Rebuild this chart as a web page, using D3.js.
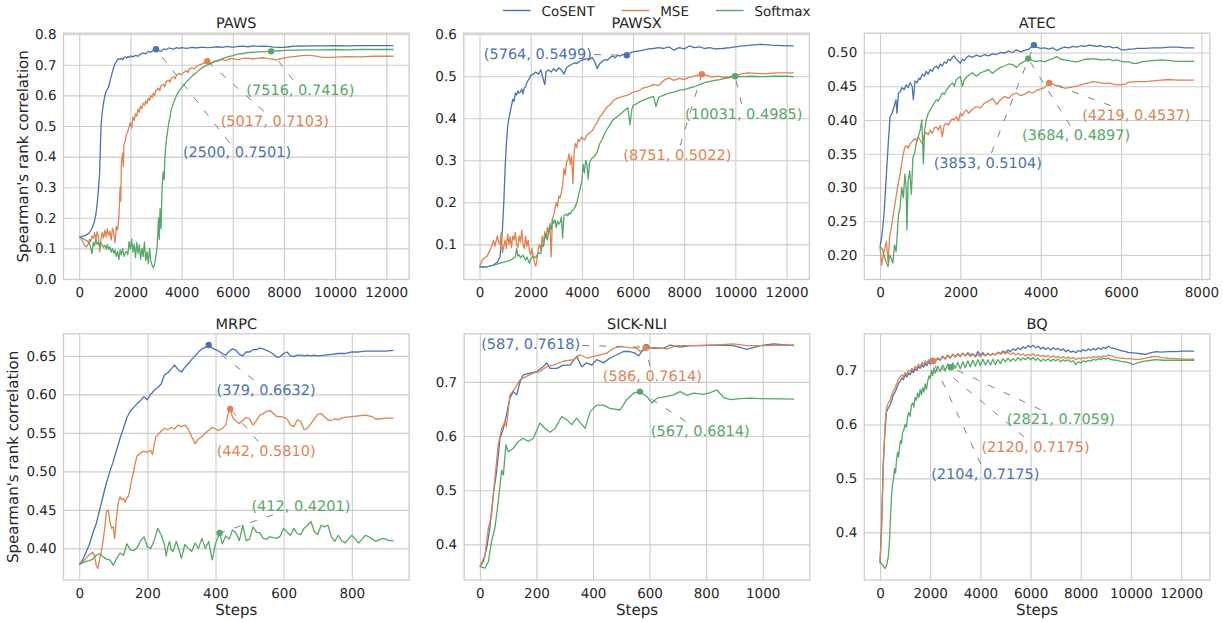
<!DOCTYPE html>
<html>
<head>
<meta charset="utf-8">
<script src="https://cdn.jsdelivr.net/npm/d3@7"></script>
<style>
body{margin:0;background:#fff;}
text{font-family:"DejaVu Sans",sans-serif;fill:#262626;text-rendering:geometricPrecision;}
</style>
</head>
<body>
<svg id="chart" width="1223" height="622"></svg>
<script>
const seriesNames = ["CoSENT", "MSE", "Softmax"];
const seriesColors = ["#4c72b0", "#dd8452", "#55a868"];

// tick values
const steps12k = [0, 2000, 4000, 6000, 8000, 10000, 12000];
const steps8k = [0, 2000, 4000, 6000, 8000];
const mrpcStepTicks = [0, 200, 400, 600, 800];
const sickStepTicks = [0, 200, 400, 600, 800, 1000];
const pawsYTicks = [0, .1, .2, .3, .4, .5, .6, .7, .8];
const pawsxYTicks = [.1, .2, .3, .4, .5, .6];
const atecYTicks = [.2, .25, .3, .35, .4, .45, .5];
const mrpcYTicks = [.4, .45, .5, .55, .6, .65];
const sickYTicks = [.4, .5, .6, .7];
const bqYTicks = [.4, .5, .6, .7];

// PAWS  [step, spearman]
const pawsCosent = [[0,.138],[100,.139],[200,.141],[300,.145],[400,.152],[500,.165],[600,.19],[650,.21],[700,.245],[750,.29],[800,.35],[830,.44],[860,.51],[900,.545],[950,.575],[1000,.598],[1050,.612],[1100,.62],[1150,.628],[1200,.645],[1250,.662],[1300,.678],[1350,.692],[1400,.703],[1450,.71],[1500,.717],[1550,.72],[1600,.718],[1650,.722],[1700,.716],[1750,.724],[1800,.726],[1850,.722],[1900,.727],[1950,.724],[2000,.729],[2100,.726],[2200,.731],[2300,.728],[2400,.735],[2500,.739],[2600,.736],[2700,.744],[2800,.741],[2900,.748],[3000,.751],[3100,.746],[3200,.744],[3300,.752],[3400,.75],[3500,.755],[3600,.753],[3700,.751],[3800,.756],[3900,.754],[4000,.756],[4200,.754],[4400,.757],[4600,.755],[4800,.758],[5000,.756],[5200,.757],[5400,.759],[5600,.757],[5800,.76],[6000,.757],[6200,.76],[6400,.761],[6600,.759],[6800,.762],[7000,.76],[7200,.761],[7400,.76],[7600,.758],[7800,.757],[8000,.757],[8200,.759],[8400,.761],[8600,.762],[8800,.761],[9000,.762],[9500,.762],[10000,.763],[10500,.762],[11000,.763],[11500,.763],[12000,.763],[12280,.763]];
const pawsMse = [[0,.14],[100,.128],[200,.112],[280,.104],[350,.113],[400,.13],[450,.122],[500,.14],[550,.133],[600,.152],[650,.127],[700,.155],[750,.138],[800,.089],[850,.13],[900,.152],[950,.133],[1000,.16],[1050,.138],[1100,.165],[1150,.143],[1200,.156],[1250,.128],[1300,.166],[1350,.148],[1400,.118],[1450,.172],[1500,.16],[1550,.2],[1600,.3],[1625,.255],[1650,.38],[1700,.412],[1725,.368],[1750,.44],[1800,.452],[1850,.474],[1900,.482],[1950,.498],[2000,.511],[2050,.493],[2100,.53],[2150,.518],[2200,.54],[2250,.532],[2300,.556],[2350,.545],[2400,.566],[2450,.556],[2500,.575],[2550,.568],[2600,.582],[2650,.574],[2700,.591],[2750,.584],[2800,.6],[2850,.593],[2900,.607],[2950,.6],[3000,.616],[3100,.624],[3150,.615],[3200,.632],[3300,.636],[3350,.628],[3400,.646],[3500,.65],[3550,.643],[3600,.657],[3700,.661],[3750,.654],[3800,.667],[3900,.671],[4000,.667],[4100,.676],[4200,.681],[4250,.675],[4300,.686],[4400,.69],[4500,.687],[4600,.696],[4700,.7],[4800,.703],[4900,.707],[5000,.712],[5100,.708],[5200,.707],[5300,.713],[5400,.711],[5500,.716],[5600,.718],[5700,.714],[5800,.716],[5900,.721],[6000,.72],[6200,.717],[6400,.721],[6600,.722],[6800,.719],[7000,.722],[7200,.723],[7400,.72],[7600,.718],[7700,.715],[7800,.719],[8000,.722],[8200,.725],[8400,.727],[8600,.729],[8800,.731],[9000,.731],[9200,.729],[9400,.726],[9600,.724],[9800,.724],[10000,.725],[10500,.727],[11000,.726],[11500,.728],[12000,.728],[12280,.728]];
const pawsSoftmax = [[0,.14],[100,.134],[200,.129],[300,.125],[400,.118],[450,.1],[500,.083],[550,.12],[600,.108],[650,.13],[700,.113],[750,.121],[800,.107],[850,.118],[900,.111],[950,.104],[1000,.11],[1050,.098],[1100,.112],[1150,.097],[1200,.105],[1250,.088],[1300,.1],[1350,.084],[1400,.095],[1450,.074],[1500,.09],[1550,.064],[1600,.095],[1650,.079],[1700,.1],[1750,.074],[1800,.085],[1850,.09],[1900,.079],[1950,.122],[2000,.098],[2050,.13],[2100,.088],[2150,.115],[2200,.07],[2250,.12],[2300,.084],[2350,.112],[2400,.065],[2450,.1],[2500,.074],[2550,.121],[2600,.06],[2650,.09],[2700,.05],[2750,.1],[2800,.058],[2850,.045],[2900,.037],[2950,.05],[3000,.075],[3050,.11],[3100,.2],[3130,.13],[3160,.23],[3200,.165],[3240,.3],[3280,.35],[3320,.325],[3350,.4],[3400,.45],[3450,.48],[3500,.51],[3550,.53],[3600,.555],[3700,.578],[3800,.6],[3900,.614],[4000,.625],[4100,.635],[4200,.645],[4300,.654],[4400,.662],[4500,.669],[4600,.676],[4700,.684],[4800,.69],[4900,.695],[5000,.699],[5100,.703],[5200,.707],[5300,.71],[5400,.714],[5600,.72],[5800,.726],[6000,.73],[6200,.735],[6400,.737],[6600,.74],[6800,.741],[7000,.742],[7200,.743],[7500,.744],[7800,.746],[8100,.747],[8500,.748],[9000,.749],[9500,.749],[10000,.75],[10500,.749],[11000,.75],[11500,.75],[12000,.75],[12280,.75]];
const pawsNotes = [[3000,.751,"(2500, 0.7501)"],[5000,.712,"(5017, 0.7103)"],[7500,.744,"(7516, 0.7416)"]];

// PAWSX
const pawsxCosent = [[0,.046],[200,.046],[400,.048],[550,.051],[700,.058],[800,.07],[850,.1],[900,.14],[950,.2],[1000,.28],[1050,.34],[1100,.38],[1150,.40],[1200,.415],[1250,.43],[1300,.445],[1350,.44],[1400,.46],[1450,.455],[1500,.465],[1550,.46],[1600,.462],[1650,.47],[1700,.458],[1750,.472],[1800,.475],[1850,.485],[1900,.49],[1950,.495],[2000,.502],[2100,.505],[2200,.51],[2300,.505],[2400,.515],[2500,.49],[2550,.48],[2600,.51],[2700,.515],[2800,.51],[2900,.518],[3000,.512],[3100,.52],[3200,.515],[3300,.505],[3400,.52],[3500,.525],[3600,.528],[3700,.532],[3800,.53],[3900,.535],[4000,.538],[4100,.54],[4200,.542],[4300,.54],[4400,.545],[4500,.535],[4600,.518],[4700,.53],[4800,.535],[4900,.54],[5000,.538],[5100,.545],[5200,.548],[5300,.544],[5400,.55],[5500,.548],[5600,.552],[5760,.55],[5900,.556],[6000,.558],[6200,.56],[6400,.562],[6600,.565],[6800,.566],[7000,.568],[7200,.566],[7400,.57],[7600,.562],[7800,.568],[8000,.565],[8200,.572],[8400,.568],[8600,.57],[8800,.566],[9000,.568],[9200,.565],[9500,.566],[9800,.568],[10000,.57],[10300,.572],[10600,.574],[11000,.576],[11400,.574],[11800,.573],[12280,.572]];
const pawsxMse = [[0,.046],[100,.062],[200,.068],[300,.072],[400,.085],[500,.1],[550,.11],[600,.095],[700,.12],[750,.105],[800,.1],[850,.128],[900,.08],[950,.095],[1000,.11],[1050,.09],[1100,.125],[1150,.1],[1200,.118],[1250,.092],[1300,.12],[1350,.11],[1400,.128],[1450,.1],[1500,.092],[1550,.12],[1600,.105],[1650,.134],[1700,.1],[1750,.09],[1800,.12],[1850,.095],[1900,.11],[1950,.085],[2000,.075],[2050,.09],[2100,.07],[2150,.055],[2200,.048],[2250,.065],[2300,.09],[2350,.1],[2400,.085],[2450,.12],[2500,.1],[2550,.13],[2600,.115],[2650,.14],[2700,.125],[2750,.15],[2800,.07],[2850,.16],[2900,.17],[2950,.185],[3000,.2],[3050,.19],[3100,.215],[3150,.21],[3200,.225],[3250,.24],[3300,.28],[3350,.265],[3400,.295],[3450,.3],[3500,.315],[3550,.29],[3600,.31],[3650,.245],[3700,.32],[3750,.34],[3800,.33],[3850,.35],[3900,.345],[4000,.355],[4100,.348],[4200,.36],[4300,.365],[4400,.37],[4500,.38],[4600,.39],[4700,.403],[4800,.41],[4900,.42],[5000,.428],[5100,.432],[5200,.44],[5300,.445],[5400,.448],[5500,.45],[5600,.452],[5800,.455],[6000,.462],[6200,.465],[6400,.472],[6600,.475],[6800,.48],[7000,.478],[7200,.49],[7400,.496],[7600,.49],[7800,.495],[8000,.492],[8200,.498],[8400,.5],[8690,.505],[8900,.502],[9100,.498],[9300,.5],[9600,.497],[9900,.5],[10200,.505],[10500,.508],[10800,.507],[11200,.506],[11600,.508],[12000,.508],[12280,.508]];
const pawsxSoftmax = [[0,.046],[200,.046],[400,.048],[600,.051],[800,.055],[1000,.058],[1200,.062],[1300,.066],[1400,.07],[1450,.09],[1500,.072],[1550,.075],[1600,.068],[1700,.074],[1800,.062],[1850,.07],[1950,.055],[2000,.065],[2100,.072],[2200,.068],[2300,.08],[2400,.078],[2450,.1],[2500,.095],[2550,.115],[2600,.125],[2650,.11],[2700,.13],[2750,.145],[2800,.135],[2850,.16],[2900,.15],[2950,.158],[3000,.14],[3050,.155],[3100,.148],[3150,.152],[3200,.165],[3250,.115],[3300,.168],[3350,.17],[3400,.172],[3450,.168],[3500,.175],[3550,.172],[3600,.178],[3700,.185],[3800,.198],[3900,.225],[4000,.25],[4050,.29],[4100,.27],[4150,.3],[4200,.29],[4250,.255],[4300,.295],[4400,.305],[4500,.31],[4600,.32],[4700,.34],[4800,.35],[4900,.365],[5000,.375],[5100,.385],[5200,.395],[5300,.4],[5400,.405],[5500,.41],[5600,.415],[5700,.42],[5800,.425],[5880,.385],[5950,.42],[6000,.43],[6200,.437],[6400,.443],[6600,.448],[6800,.452],[6900,.428],[7000,.45],[7200,.455],[7400,.46],[7600,.462],[7800,.467],[8000,.468],[8200,.472],[8400,.475],[8600,.48],[8800,.485],[9000,.488],[9200,.49],[9400,.492],[9600,.495],[9800,.497],[9990,.5],[10300,.499],[10600,.5],[11000,.499],[11500,.5],[12000,.5],[12280,.499]];
const pawsxNotes = [[5760,.55,"(5764, 0.5499)"],[8690,.505,"(8751, 0.5022)"],[9990,.5,"(10031, 0.4985)"]];

// ATEC
const atecCosent = [[0,.212],[50,.23],[100,.26],[150,.31],[200,.36],[250,.405],[300,.41],[350,.42],[400,.43],[420,.41],[460,.44],[500,.442],[550,.448],[600,.445],[650,.452],[700,.448],[750,.455],[800,.45],[830,.43],[870,.458],[920,.455],[970,.462],[1000,.46],[1050,.468],[1100,.465],[1150,.472],[1200,.468],[1250,.475],[1300,.472],[1350,.478],[1400,.48],[1450,.476],[1500,.483],[1550,.48],[1600,.486],[1650,.484],[1700,.49],[1750,.488],[1800,.493],[1850,.495],[1900,.49],[1950,.487],[2000,.484],[2050,.49],[2100,.488],[2150,.492],[2200,.495],[2300,.493],[2400,.496],[2500,.494],[2600,.497],[2700,.495],[2800,.498],[2900,.497],[3000,.5],[3100,.499],[3200,.502],[3300,.5],[3400,.504],[3500,.501],[3600,.503],[3700,.505],[3831,.511],[3900,.508],[4000,.506],[4100,.507],[4200,.505],[4300,.507],[4400,.503],[4500,.506],[4600,.508],[4700,.507],[4800,.509],[4900,.508],[5000,.51],[5100,.509],[5200,.511],[5300,.51],[5400,.509],[5500,.51],[5600,.508],[5700,.509],[5800,.507],[5900,.508],[6000,.504],[6100,.504],[6200,.505],[6300,.505],[6400,.506],[6600,.506],[6800,.507],[7000,.507],[7200,.508],[7400,.508],[7600,.507],[7820,.507]];
const atecMse = [[0,.212],[40,.185],[80,.2],[120,.21],[160,.22],[200,.19],[240,.228],[280,.24],[330,.26],[370,.275],[410,.29],[450,.305],[500,.32],[540,.335],[580,.35],[620,.36],[660,.362],[700,.358],[750,.365],[800,.368],[850,.372],[900,.37],[950,.375],[1000,.37],[1050,.365],[1100,.378],[1150,.382],[1200,.378],[1250,.385],[1300,.38],[1350,.388],[1400,.39],[1450,.385],[1500,.392],[1550,.375],[1600,.393],[1650,.395],[1700,.392],[1750,.398],[1800,.402],[1850,.4],[1900,.405],[1950,.398],[2000,.41],[2050,.406],[2100,.412],[2150,.415],[2200,.41],[2300,.416],[2400,.42],[2500,.418],[2600,.425],[2700,.428],[2800,.432],[2900,.423],[3000,.43],[3100,.435],[3200,.432],[3300,.438],[3400,.44],[3500,.436],[3600,.438],[3700,.442],[3800,.44],[3900,.444],[4000,.446],[4100,.448],[4213,.455],[4300,.453],[4400,.451],[4500,.45],[4600,.447],[4700,.448],[4800,.449],[4900,.45],[5000,.452],[5100,.454],[5200,.455],[5300,.457],[5400,.456],[5500,.455],[5600,.454],[5700,.455],[5800,.453],[5900,.452],[6000,.452],[6100,.453],[6200,.456],[6400,.457],[6600,.457],[6800,.458],[7000,.459],[7200,.46],[7400,.459],[7600,.459],[7820,.459]];
const atecSoftmax = [[0,.212],[50,.21],[100,.2],[150,.19],[200,.183],[240,.2],[280,.195],[320,.188],[360,.215],[400,.205],[440,.24],[460,.26],[500,.27],[540,.3],[580,.285],[620,.32],[650,.3],[670,.237],[700,.31],[740,.325],[780,.29],[820,.345],[860,.35],[900,.365],[950,.375],[1000,.385],[1040,.4],[1080,.335],[1110,.385],[1150,.4],[1200,.41],[1250,.415],[1300,.42],[1350,.425],[1400,.43],[1450,.428],[1500,.434],[1550,.44],[1600,.438],[1650,.444],[1700,.448],[1750,.452],[1800,.455],[1850,.45],[1900,.46],[1950,.462],[2000,.465],[2050,.45],[2100,.46],[2150,.463],[2200,.466],[2300,.47],[2400,.465],[2500,.47],[2600,.472],[2700,.475],[2800,.469],[2900,.474],[3000,.478],[3100,.48],[3200,.483],[3300,.482],[3400,.478],[3500,.484],[3600,.487],[3689,.491],[3800,.488],[3900,.487],[4000,.488],[4100,.486],[4200,.489],[4300,.491],[4400,.494],[4500,.49],[4600,.489],[4700,.488],[4800,.487],[4900,.486],[5000,.488],[5100,.49],[5200,.49],[5300,.491],[5400,.49],[5500,.489],[5600,.489],[5700,.49],[5800,.488],[5900,.489],[6000,.487],[6100,.486],[6200,.486],[6300,.484],[6400,.484],[6500,.486],[6600,.487],[6800,.488],[7000,.489],[7200,.488],[7400,.487],[7600,.487],[7820,.487]];
const atecNotes = [[3831,.511,"(3853, 0.5104)"],[4213,.455,"(4219, 0.4537)"],[3689,.491,"(3684, 0.4897)"]];

// MRPC
const mrpcCosent = [[0,.379],[10,.385],[20,.395],[30,.405],[40,.42],[50,.432],[60,.45],[70,.468],[80,.485],[90,.5],[100,.513],[110,.528],[120,.543],[130,.556],[140,.57],[150,.578],[160,.583],[170,.588],[180,.592],[190,.597],[200,.593],[210,.6],[220,.605],[230,.609],[240,.613],[250,.625],[260,.628],[270,.633],[280,.638],[290,.632],[300,.629],[310,.635],[320,.64],[330,.645],[340,.65],[350,.655],[360,.659],[370,.661],[380,.664],[390,.66],[400,.658],[410,.656],[420,.653],[430,.651],[440,.656],[450,.659],[460,.657],[470,.652],[480,.65],[490,.655],[500,.655],[510,.658],[520,.658],[530,.66],[540,.659],[550,.657],[560,.655],[570,.652],[580,.648],[590,.649],[600,.653],[610,.655],[620,.65],[630,.649],[640,.651],[650,.651],[660,.65],[670,.651],[680,.65],[690,.651],[700,.65],[720,.651],[740,.652],[760,.653],[780,.653],[800,.655],[820,.655],[840,.656],[860,.656],[880,.656],[900,.656],[922,.657]];
const mrpcMse = [[0,.379],[10,.383],[20,.387],[30,.392],[40,.395],[45,.39],[50,.378],[55,.374],[60,.386],[65,.396],[70,.41],[75,.426],[80,.448],[85,.45],[90,.435],[95,.426],[100,.428],[104,.413],[110,.443],[115,.46],[120,.467],[125,.463],[130,.465],[135,.46],[140,.466],[145,.468],[150,.48],[155,.492],[160,.5],[165,.512],[170,.52],[180,.524],[190,.526],[200,.525],[210,.527],[215,.522],[220,.535],[225,.545],[230,.547],[240,.552],[250,.556],[260,.554],[270,.557],[280,.555],[290,.56],[300,.558],[310,.56],[320,.555],[330,.545],[340,.536],[350,.542],[360,.545],[370,.55],[380,.553],[390,.557],[400,.555],[410,.553],[420,.556],[430,.56],[437,.575],[443,.581],[450,.57],[460,.565],[470,.562],[480,.566],[490,.57],[500,.568],[510,.56],[520,.566],[530,.573],[540,.575],[550,.578],[560,.579],[570,.575],[580,.571],[590,.571],[600,.57],[610,.568],[620,.56],[630,.558],[640,.567],[650,.565],[660,.554],[670,.556],[680,.562],[690,.568],[700,.574],[710,.575],[720,.571],[730,.567],[740,.566],[750,.568],[760,.567],[770,.569],[780,.57],[800,.571],[820,.572],[840,.573],[860,.571],[870,.568],[880,.568],[900,.569],[922,.569]];
const mrpcSoftmax = [[0,.379],[10,.381],[20,.383],[30,.384],[40,.386],[50,.391],[60,.393],[70,.389],[80,.386],[90,.385],[100,.378],[110,.387],[120,.394],[130,.391],[140,.406],[150,.398],[160,.397],[170,.401],[180,.41],[190,.415],[200,.402],[210,.4],[220,.41],[230,.426],[240,.418],[250,.405],[255,.39],[260,.402],[265,.409],[270,.398],[275,.396],[285,.409],[295,.395],[300,.387],[310,.405],[320,.4],[330,.396],[340,.407],[350,.4],[360,.413],[370,.4],[380,.409],[390,.385],[395,.395],[400,.406],[412,.42],[420,.406],[430,.416],[440,.412],[450,.424],[460,.42],[470,.41],[480,.43],[490,.41],[500,.412],[510,.428],[520,.421],[530,.42],[540,.413],[550,.412],[560,.415],[570,.414],[580,.413],[590,.416],[600,.426],[610,.421],[620,.417],[630,.426],[640,.419],[650,.418],[660,.426],[670,.43],[680,.435],[690,.422],[700,.418],[710,.43],[720,.428],[730,.43],[740,.415],[750,.409],[760,.417],[770,.41],[780,.407],[790,.412],[800,.417],[810,.412],[820,.407],[830,.412],[840,.417],[850,.415],[860,.412],[870,.409],[880,.411],[890,.413],[900,.412],[910,.41],[922,.41]];
const mrpcNotes = [[380,.664,"(379, 0.6632)"],[443,.581,"(442, 0.5810)"],[412,.42,"(412, 0.4201)"]];

// SICK-NLI
const sickCosent = [[0,.359],[12,.368],[24,.393],[35,.43],[47,.491],[59,.534],[71,.596],[83,.614],[94,.639],[106,.67],[118,.682],[130,.676],[142,.7],[153,.713],[177,.716],[201,.719],[224,.728],[236,.735],[248,.725],[272,.725],[295,.731],[319,.731],[342,.747],[360,.728],[378,.735],[396,.731],[413,.741],[437,.735],[460,.744],[484,.75],[508,.756],[531,.756],[549,.753],[561,.748],[573,.756],[588,.764],[614,.762],[649,.762],[673,.768],[708,.764],[744,.767],[779,.767],[850,.768],[897,.767],[944,.76],[992,.767],[1039,.77],[1111,.767]];
const sickMse = [[0,.359],[18,.38],[30,.43],[41,.454],[53,.522],[65,.584],[77,.614],[89,.627],[94,.617],[106,.676],[124,.688],[142,.704],[165,.71],[189,.716],[212,.719],[236,.728],[260,.731],[295,.738],[331,.741],[354,.75],[378,.744],[401,.747],[425,.75],[449,.753],[472,.762],[496,.765],[531,.763],[555,.762],[567,.756],[586,.763],[614,.763],[661,.761],[696,.767],[744,.767],[838,.768],[897,.77],[944,.767],[992,.767],[1111,.768]];
const sickSoftmax = [[0,.359],[18,.356],[30,.368],[41,.405],[53,.43],[65,.479],[77,.537],[83,.528],[92,.584],[100,.571],[118,.577],[136,.59],[153,.596],[171,.59],[189,.596],[212,.624],[230,.614],[248,.607],[266,.614],[289,.636],[307,.63],[325,.621],[342,.633],[372,.614],[390,.645],[413,.657],[437,.657],[460,.651],[496,.648],[519,.667],[543,.679],[566,.682],[590,.673],[608,.661],[626,.67],[661,.673],[685,.676],[708,.682],[732,.675],[756,.679],[791,.677],[815,.68],[838,.685],[862,.671],[886,.667],[921,.669],[956,.67],[992,.669],[1111,.668]];
const sickNotes = [[588,.764,"(587, 0.7618)"],[586,.763,"(586, 0.7614)"],[566,.682,"(567, 0.6814)"]];

// BQ
const bqCosent = [[0,.343],[60,.41],[130,.53],[200,.59],[260,.624],[330,.63],[400,.636],[470,.645],[530,.655],[600,.66],[660,.667],[730,.675],[800,.68],[870,.686],[930,.683],[1000,.692],[1070,.688],[1130,.695],[1200,.692],[1270,.7],[1330,.696],[1400,.703],[1470,.7],[1530,.707],[1600,.704],[1670,.71],[1730,.706],[1800,.713],[1870,.709],[1930,.716],[2000,.712],[2100,.72],[2200,.716],[2300,.722],[2400,.719],[2500,.726],[2600,.721],[2700,.728],[2800,.723],[2900,.73],[3000,.725],[3100,.731],[3200,.726],[3300,.732],[3400,.727],[3500,.733],[3600,.728],[3700,.731],[3800,.726],[3900,.735],[4000,.728],[4100,.733],[4200,.727],[4300,.732],[4400,.728],[4500,.731],[4600,.729],[4700,.734],[4800,.731],[4900,.736],[5000,.733],[5100,.738],[5200,.735],[5300,.74],[5400,.737],[5500,.742],[5600,.739],[5700,.744],[5800,.741],[5900,.746],[6000,.743],[6100,.747],[6200,.742],[6300,.745],[6400,.74],[6500,.743],[6600,.739],[6700,.742],[6800,.738],[6900,.742],[7000,.739],[7100,.741],[7200,.737],[7300,.74],[7400,.735],[7500,.738],[7600,.734],[7700,.736],[7800,.733],[7900,.737],[8000,.735],[8100,.739],[8200,.736],[8300,.74],[8400,.737],[8500,.741],[8600,.738],[8700,.742],[8800,.739],[8900,.743],[9000,.741],[9100,.745],[9200,.742],[9300,.741],[9400,.74],[9500,.738],[9600,.737],[9700,.736],[9800,.735],[9900,.733],[10000,.733],[10200,.732],[10400,.731],[10600,.73],[10800,.733],[11000,.735],[11200,.734],[11500,.735],[11800,.735],[12100,.736],[12520,.736]];
const bqMse = [[0,.343],[60,.40],[130,.52],[200,.6],[260,.63],[330,.64],[400,.645],[470,.655],[530,.662],[600,.668],[660,.675],[730,.683],[800,.688],[870,.692],[930,.688],[1000,.696],[1070,.692],[1130,.7],[1200,.697],[1270,.704],[1330,.7],[1400,.708],[1470,.704],[1530,.712],[1600,.707],[1670,.715],[1730,.71],[1800,.718],[1870,.713],[1930,.72],[2000,.715],[2100,.722],[2200,.717],[2300,.724],[2400,.72],[2500,.727],[2600,.722],[2700,.729],[2800,.724],[2900,.73],[3000,.725],[3100,.731],[3200,.726],[3300,.732],[3400,.727],[3500,.731],[3600,.726],[3700,.73],[3800,.725],[3900,.729],[4000,.726],[4100,.73],[4200,.727],[4300,.731],[4400,.728],[4500,.732],[4600,.729],[4700,.733],[4800,.73],[4900,.734],[5000,.731],[5100,.734],[5200,.73],[5300,.733],[5400,.729],[5500,.732],[5600,.728],[5700,.731],[5800,.727],[5900,.73],[6000,.728],[6100,.731],[6200,.727],[6300,.729],[6400,.726],[6500,.728],[6600,.725],[6700,.728],[6800,.724],[6900,.727],[7000,.724],[7100,.726],[7200,.723],[7300,.726],[7400,.722],[7500,.725],[7600,.722],[7700,.724],[7800,.72],[7900,.723],[8000,.721],[8100,.724],[8200,.722],[8300,.725],[8400,.723],[8500,.726],[8600,.724],[8700,.726],[8800,.724],[8900,.727],[9000,.726],[9100,.729],[9200,.727],[9300,.726],[9400,.724],[9600,.723],[9800,.722],[10000,.722],[10200,.72],[10400,.721],[10600,.723],[10800,.725],[11000,.726],[11200,.724],[11500,.723],[11800,.722],[12100,.721],[12520,.721]];
const bqSoftmax = [[0,.343],[60,.342],[130,.338],[200,.333],[260,.338],[330,.355],[380,.385],[420,.43],[460,.47],[500,.49],[540,.5],[580,.518],[620,.51],[660,.535],[700,.548],[740,.54],[780,.56],[820,.57],[860,.565],[900,.585],[950,.59],[1000,.6],[1050,.595],[1100,.615],[1150,.622],[1200,.615],[1250,.635],[1300,.64],[1350,.632],[1400,.65],[1450,.645],[1500,.658],[1550,.65],[1600,.665],[1650,.655],[1700,.668],[1750,.66],[1800,.675],[1850,.665],[1900,.68],[1950,.69],[2000,.685],[2050,.7],[2100,.69],[2150,.705],[2200,.695],[2300,.708],[2400,.698],[2500,.71],[2600,.7],[2700,.712],[2821,.706],[2900,.714],[3000,.704],[3100,.715],[3200,.703],[3300,.716],[3400,.705],[3500,.718],[3600,.707],[3700,.719],[3800,.708],[3900,.72],[4000,.709],[4100,.721],[4200,.71],[4300,.72],[4400,.71],[4500,.721],[4600,.711],[4700,.72],[4800,.713],[4900,.722],[5000,.716],[5100,.723],[5200,.717],[5300,.722],[5400,.718],[5500,.724],[5600,.719],[5700,.723],[5800,.72],[5900,.725],[6000,.72],[6100,.724],[6200,.719],[6300,.723],[6400,.717],[6500,.721],[6600,.718],[6700,.722],[6800,.717],[6900,.721],[7000,.718],[7100,.721],[7200,.716],[7300,.72],[7400,.717],[7500,.72],[7600,.716],[7700,.718],[7800,.711],[7900,.716],[8000,.714],[8100,.718],[8200,.716],[8300,.719],[8400,.717],[8500,.721],[8600,.719],[8700,.722],[8800,.72],[8900,.723],[9000,.721],[9100,.723],[9200,.72],[9400,.719],[9600,.717],[9800,.716],[10000,.713],[10100,.711],[10200,.713],[10400,.716],[10600,.718],[10800,.719],[11000,.72],[11300,.719],[11700,.719],[12100,.719],[12520,.719]];
const bqNotes = [[2104,.7175,"(2104, 0.7175)"],[2120,.7175,"(2120, 0.7175)"],[2821,.7059,"(2821, 0.7059)"]];

const plotW = 345.6;
const plotH = 246.3;
const svg = d3.select("#chart");

const panels = [
  {title:"PAWS", lines:[pawsCosent,pawsMse,pawsSoftmax], notes:pawsNotes, xMax:12280, xTicks:steps12k, yTicks:pawsYTicks, yDomain:[-0.0016,0.8033], fmt:".1f", left:63.5, top:33.2, offs:[[81,103],[67.6,59.7],[29.3,38.3]], yLabelX:27.5, xLabel:false},
  {title:"PAWSX", lines:[pawsxCosent,pawsxMse,pawsxSoftmax], notes:pawsxNotes, xMax:12280, xTicks:steps12k, yTicks:pawsxYTicks, yDomain:[0.0163,0.6024], fmt:".1f", left:463.8, top:33.2, offs:[[-89,-1.7],[-24.5,81],[8.7,37.3]], yLabelX:null, xLabel:false},
  {title:"ATEC", lines:[atecCosent,atecMse,atecSoftmax], notes:atecNotes, xMax:7820, xTicks:steps8k, yTicks:atecYTicks, yDomain:[0.1637,0.5286], fmt:".2f", left:864.3, top:33.2, offs:[[-46.2,117.3],[87,32.3],[47.9,76.7]], yLabelX:null, xLabel:false},
  {title:"MRPC", lines:[mrpcCosent,mrpcMse,mrpcSoftmax], notes:mrpcNotes, xMax:922, xTicks:mrpcStepTicks, yTicks:mrpcYTicks, yDomain:[0.3588,0.6786], fmt:".2f", left:63.5, top:333.8, offs:[[57.4,44.3],[36,42],[81.3,-27.6]], yLabelX:17.5, xLabel:true},
  {title:"SICK-NLI", lines:[sickCosent,sickMse,sickSoftmax], notes:sickNotes, xMax:1111, xTicks:sickStepTicks, yTicks:sickYTicks, yDomain:[0.334,0.7887], fmt:".1f", left:464.2, top:333.8, offs:[[-115.5,-3],[6.7,28.3],[60.3,39.3]], yLabelX:null, xLabel:true},
  {title:"BQ", lines:[bqCosent,bqMse,bqSoftmax], notes:bqNotes, xMax:12520, xTicks:steps12k, yTicks:bqYTicks, yDomain:[0.3115,0.768], fmt:".1f", left:864.3, top:333.8, offs:[[52.5,112.7],[102.3,85.4],[110,51.8]], yLabelX:null, xLabel:true}
];

function drawPanel(p){
  const g = svg.append("g").attr("transform","translate(" + p.left + "," + p.top + ")");
  const x = d3.scaleLinear().domain([-0.05*p.xMax, 1.05*p.xMax]).range([0, plotW]);
  const y = d3.scaleLinear().domain(p.yDomain).range([plotH, 0]);

  const xAxis = g.append("g")
    .attr("transform","translate(0," + plotH + ")")
    .call(d3.axisBottom(x).tickValues(p.xTicks).tickSize(-plotH).tickPadding(8).tickFormat(d3.format("d")));
  const yAxis = g.append("g")
    .call(d3.axisLeft(y).tickValues(p.yTicks).tickSize(-plotW).tickPadding(7).tickFormat(d3.format(p.fmt)));
  [xAxis, yAxis].forEach(a => {
    a.select(".domain").remove();
    a.attr("font-family", null).attr("font-size", null);
    a.selectAll("line").attr("stroke","#cccccc").attr("stroke-width",1.1);
    a.selectAll("text").style("font-size","13.5px").attr("fill","#262626");
  });

  g.append("rect")
    .attr("width", plotW).attr("height", plotH)
    .attr("fill","none").attr("stroke","#cccccc").attr("stroke-width",1.3);

  const line = d3.line().x(d => x(d[0])).y(d => y(d[1]));
  p.lines.forEach((s, i) => {
    g.append("path").datum(s)
      .attr("d", line)
      .attr("fill","none")
      .attr("stroke", seriesColors[i])
      .attr("stroke-width",1.3)
      .attr("stroke-linejoin","round");
  });

  // annotation: dot, dashed leader, label
  const noteLayer = g.append("g");
  p.notes.forEach((n, i) => {
    const px = x(n[0]), py = y(n[1]);
    const tx = px + p.offs[i][0], ty = py + p.offs[i][1];
    noteLayer.append("circle").attr("cx",px).attr("cy",py).attr("r",3.2).attr("fill",seriesColors[i]);
    const t = noteLayer.append("text")
      .attr("x",tx).attr("y",ty).attr("dy","0.36em")
      .attr("text-anchor","middle")
      .style("font-size","14.5px")
      .style("fill", seriesColors[i])
      .text(n[2]);
    const bb = t.node().getBBox();
    const hw = bb.width/2 + 2, hh = bb.height/2 + 1.5;
    const dx = px - tx, dy = py - ty;
    const len = Math.hypot(dx, dy);
    const s = Math.min(dx ? hw/Math.abs(dx) : Infinity, dy ? hh/Math.abs(dy) : Infinity);
    const e = 1 - 3/len;
    if (s < e) {
      noteLayer.insert("line", () => t.node())
        .attr("x1", tx + dx*s).attr("y1", ty + dy*s)
        .attr("x2", tx + dx*e).attr("y2", ty + dy*e)
        .attr("stroke","#808080").attr("stroke-width",1)
        .attr("stroke-dasharray","7,10");
    }
  });

  g.append("text")
    .attr("x", plotW/2).attr("y", -5)
    .attr("text-anchor","middle")
    .style("font-size","14.5px")
    .text(p.title);

  if (p.yLabelX !== null) {
    svg.append("text")
      .attr("transform","translate(" + p.yLabelX + "," + (p.top + plotH/2) + ") rotate(-90)")
      .attr("text-anchor","middle")
      .style("font-size","15px")
      .text("Spearman's rank correlation");
  }
  if (p.xLabel) {
    g.append("text")
      .attr("x", plotW/2).attr("y", plotH + 35)
      .attr("text-anchor","middle")
      .style("font-size","15px")
      .text("Steps");
  }
}

panels.forEach(drawPanel);

// legend
const legendX = [503, 621.7, 716];
const legend = svg.append("g");
seriesNames.forEach((name, i) => {
  legend.append("line")
    .attr("x1", legendX[i]).attr("x2", legendX[i] + 27.5)
    .attr("y1", 10.5).attr("y2", 10.5)
    .attr("stroke", seriesColors[i]).attr("stroke-width", 1.4);
  legend.append("text")
    .attr("x", legendX[i] + 38.5).attr("y", 15.7)
    .style("font-size","13.5px")
    .text(name);
});
</script>
</body>
</html>
